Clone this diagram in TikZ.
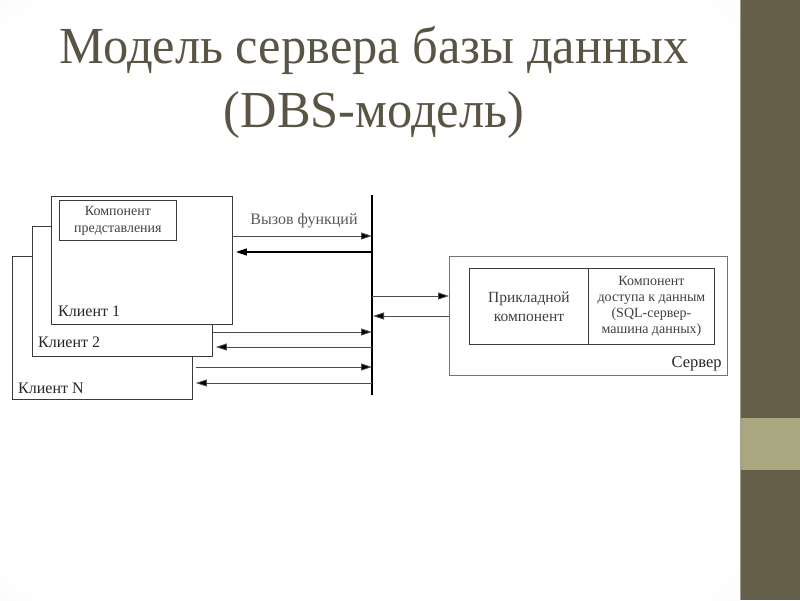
\documentclass[tikz,border=0pt]{standalone}
\usepackage{fontspec}
\setmainfont{Liberation Serif}
\usetikzlibrary{arrows.meta,calc}
\definecolor{stripdark}{HTML}{655E49}
\definecolor{stripband}{HTML}{A9A77F}
\definecolor{titlecol}{HTML}{5A5445}
\definecolor{linecol}{HTML}{3A3A3A}
\pgfdeclareradialshading{vign}{\pgfpoint{0bp}{0bp}}{color(0bp)=(white); color(33bp)=(white); color(50bp)=(black!10); color(72bp)=(black!17); color(100bp)=(black!17)}
\begin{document}
\begin{tikzpicture}[x=1pt,y=-1pt,
  box/.style={draw=linecol,line width=0.9pt,fill=white,inner sep=0pt,anchor=north west},
  lbl/.style={font=\fontsize{16}{18}\selectfont,text=black!85,inner sep=0pt,anchor=base west},
  small/.style={text=black!75,align=center,inner sep=0pt},
  tip/.style={-{Triangle[length=11pt,width=7pt,fill=black]}},
  arr/.style={draw=black!70,line width=0.8pt,tip},
  arrb/.style={draw=black,line width=1.4pt,tip},
  busline/.style={draw=black,line width=1.8pt},
  titlestyle/.style={font=\fontsize{52}{64}\selectfont,text=titlecol,align=center,inner sep=0pt}
]
\useasboundingbox (0,0) rectangle (800,600);
% background
\shade[shading=vign] (0,0) rectangle (740,600);
\fill[stripdark] (740,0) rectangle (800,600);
\fill[stripband] (740,418) rectangle (800,470);
\draw[stripdark!60!white,line width=0.8pt] (740.4,0) -- (740.4,600);
% title
\node[titlestyle,anchor=base] (t1) at (374,63) {\scalebox{0.97}[1]{Модель сервера базы данных}};
\node[titlestyle,anchor=base] (t2) at (374,127) {\scalebox{0.97}[1]{(DBS-модель)}};
% clients
\node[box,minimum width=180pt,minimum height=143pt] (cN) at (12,256) {};
\node[box,minimum width=180pt,minimum height=130pt] (c2) at (32,226) {};
\node[box,minimum width=181pt,minimum height=128pt] (c1) at (51,196) {};
\node[box,minimum width=117pt,minimum height=40pt] (pres) at (59,200) {};
\node[small,font=\fontsize{14}{17}\selectfont] (prestxt) at (pres.center) {Компонент\\представления};
\node[lbl] (l1) at ($(c1.south west)+(7,-8)$) {Клиент 1};
\node[lbl] (l2) at ($(c2.south west)+(6,-9)$) {Клиент 2};
\node[lbl] (lN) at ($(cN.south west)+(6,-6)$) {Клиент N};
% bus
\coordinate (bt) at (372,195);
\coordinate (bb) at (372,395);
\draw[busline] (bt) -- (bb);
% server
\node[box,draw=black!55,minimum width=278pt,minimum height=119pt] (srv) at (449,256) {};
\node[box,minimum width=119pt,minimum height=76pt] (app) at (469,268) {};
\node[box,minimum width=126pt,minimum height=76pt] (dac) at (588,268) {};
\node[small,font=\fontsize{15.5}{19}\selectfont] (apptxt) at (app.center) {Прикладной\\компонент};
\node[small,font=\fontsize{14}{16}\selectfont] (dactxt) at (dac.center) {Компонент\\доступа к данным\\(SQL-сервер-\\машина данных)};
\node[lbl,font=\fontsize{16.5}{18}\selectfont,anchor=base east] (srvl) at ($(srv.south east)+(-6,-8)$) {Сервер};
% y levels
\coordinate (y1) at (0,236);
\coordinate (y2) at (0,252);
\coordinate (y3) at (0,332);
\coordinate (y4) at (0,347);
\coordinate (y5) at (0,367);
\coordinate (y6) at (0,383);
\coordinate (y7) at (0,296);
\coordinate (y8) at (0,316);
% connectors
\draw[arr] (c1.east |- y1) -- (bt |- y1);
\draw[arrb,shorten >=3pt] (bt |- y2) -- (c1.east |- y2);
\draw[arr] (c2.east |- y3) -- (bt |- y3);
\draw[arr,shorten >=3pt] (bt |- y4) -- (c2.east |- y4);
\draw[arr,shorten <=3pt] (cN.east |- y5) -- (bt |- y5);
\draw[arr,shorten >=3pt] (bt |- y6) -- (cN.east |- y6);
\draw[arr] (bt |- y7) -- (srv.west |- y7);
\draw[arr,shorten >=1pt] (srv.west |- y8) -- (bt |- y8);
\node[small,font=\fontsize{16}{18}\selectfont,text=black!65] (call) at (304,221) {Вызов функций};
\end{tikzpicture}
\end{document}
